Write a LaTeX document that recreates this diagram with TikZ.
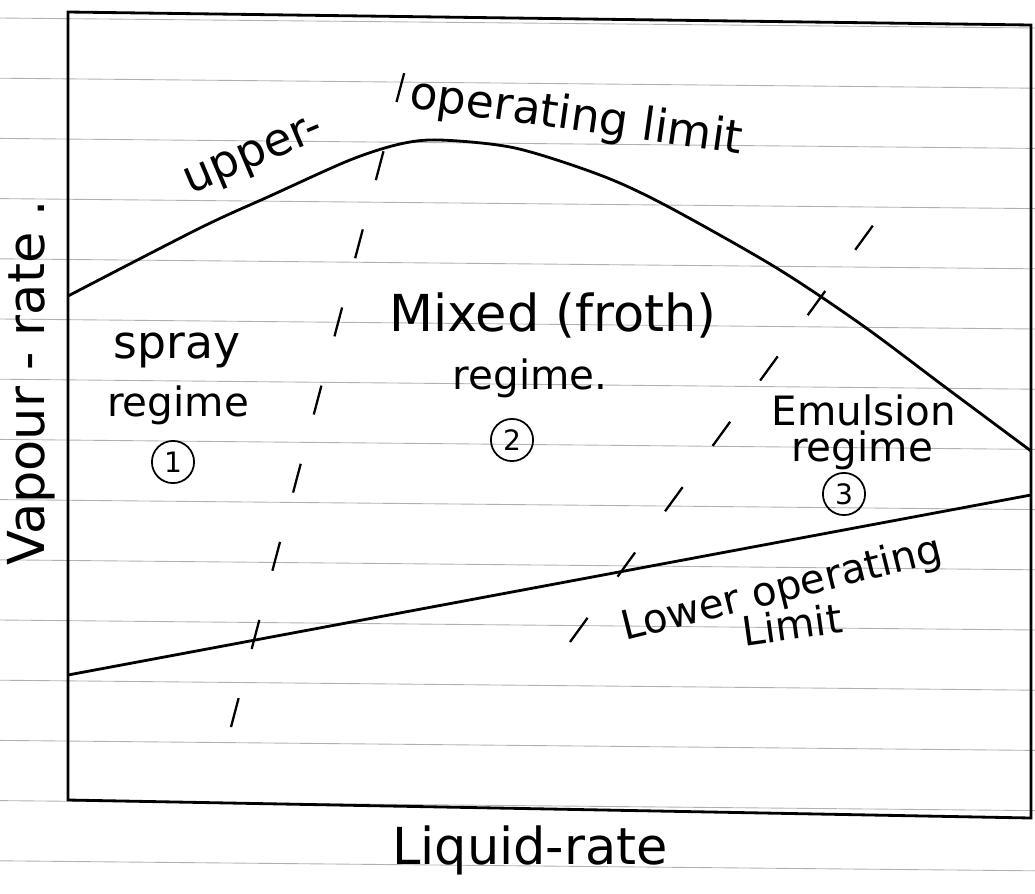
\documentclass[tikz,border=0pt]{standalone}
\usepackage{fontspec}
\setmainfont{DejaVu Sans}
\usetikzlibrary{positioning}
\tikzset{
  every picture/.style={line width=1.4pt},
  lbl/.style={font=\fontsize{26}{30}\selectfont, inner sep=0pt},
  lblbig/.style={font=\fontsize{29}{33}\selectfont, inner sep=0pt},
  lblsmall/.style={font=\fontsize{23}{27}\selectfont, inner sep=0pt},
  num/.style={draw, circle, line width=1pt, minimum size=24pt, inner sep=0pt, font=\fontsize{16}{18}\selectfont},
  limit/.style={line width=1.6pt},
  border/.style={draw, line width=1.6pt},
  regline/.style={line width=1.3pt, dash pattern=on 17pt off 29pt},
  rule/.style={draw=gray!60, line width=0.5pt},
}

\begin{document}
\begin{tikzpicture}[x=0.02cm, y=-0.02cm]
  \useasboundingbox (0,0) rectangle (1035,893);
  % ruled paper
  \foreach \k in {0,...,14}
    \draw[rule] (0,18+60.2*\k) -- (1035,28+60.2*\k);
  % frame
  \draw[border] (68,12) -- (1031,25) -- (1031,818) -- (68,800) -- cycle;
  % operating limits
  \draw[limit] plot[smooth] coordinates {(68,296) (200,228) (270,196) (350,160) (400,144) (440,140) (515,148) (600,175) (665,205) (775,267) (862,325) (945,387) (1031,451)};
  \draw[limit] (68,675) -- (1031,495);
  % regime boundaries
  \draw[regline] (231,727) -- (405,70);
  \draw[regline] (570,642) -- (882,213);
  % labels
  \node[lbl, rotate=23] (upper) at (255,158) {upper-};
  \node[lbl, rotate=-8] (oplimit) at (576,118) {operating limit};
  \node[lbl] (spray) at (177,350) {spray};
  \node[lblsmall] (sprayreg) at (178,405) {regime};
  \node[num] (one) at (173,462) {1};
  \node[lblbig] (mixed) at (553,315) {Mixed (froth)};
  \node[lblsmall] (mixedreg) at (530,378) {regime.};
  \node[num] (two) at (512,440) {2};
  \node[lblsmall] (emul) at (864,410) {Emulsion};
  \node[lblsmall] (emulreg) at (862,450) {regime};
  \node[num] (three) at (844,494) {3};
  \node[lblsmall, rotate=14] (lower) at (782,590) {Lower operating};
  \node[lblsmall, rotate=8] (lowlimit) at (792,624) {Limit};
  \node[lblbig, rotate=90] (ylabel) at (31,383) {Vapour - rate .};
  \node[lblbig] (xlabel) at (530,850) {Liquid-rate};
\end{tikzpicture}
\end{document}
